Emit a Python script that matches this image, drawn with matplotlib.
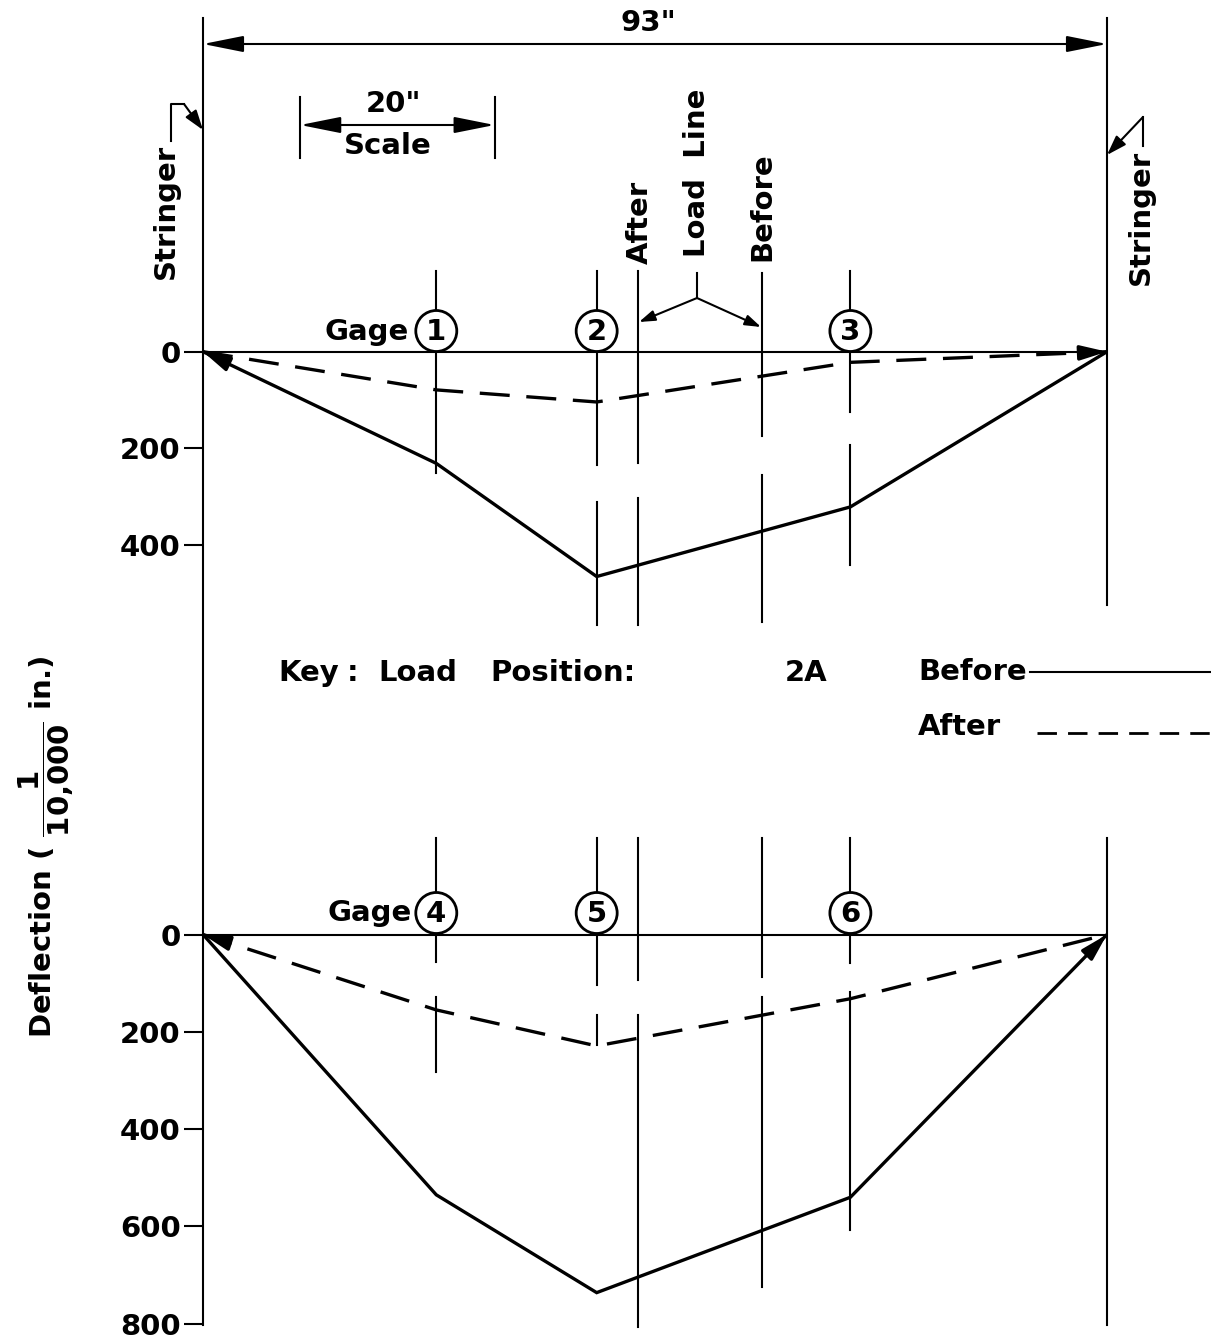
import matplotlib
matplotlib.use('Agg')
import matplotlib.pyplot as plt
from matplotlib.patches import Circle, FancyArrowPatch
from matplotlib.lines import Line2D
from matplotlib.transforms import Affine2D, blended_transform_factory

plt.rcParams['mathtext.fontset'] = 'dejavusans'

# span between stringers, inches
span = 93
scale_bar = [10, 30]

# gage and load line positions, inches from left stringer
gage_x = [24.0, 40.5, 66.6]
load_after_x = 44.7
load_before_x = 57.5

# deflections, 1/10,000 in. (stringers at 0 and span)
pos_x = [0] + gage_x + [span]
top_before = [0, 231, 465, 321, 0]
top_after = [0, 79, 104, 22, 0]
bot_before = [0, 535, 736, 540, 0]
bot_after = [0, 155, 229, 132, 0]

top_gages = ['1', '2', '3']
bot_gages = ['4', '5', '6']
top_ticks = [0, 200, 400]
bot_ticks = [0, 200, 400, 600, 800]

# page layout in pixels
W, H = 1211, 1340
X0, X1 = 203, 1107
FS = 21
FONT = dict(fontsize=FS, fontweight='bold', family='DejaVu Sans')
LW_CURVE = 2.4
LW_THIN = 1.5
DIM_ARROW = '<|-|>,head_length=1.25,head_width=0.25'

fig = plt.figure(figsize=(W / 100, H / 100), dpi=100)
pix = Affine2D().scale(1 / W, -1 / H).translate(0, 1) + fig.transFigure


def make_axes(row0, row1, zero_px, px_per_unit, ticks):
    ax = fig.add_axes([X0 / W, 1 - row1 / H, (X1 - X0) / W, (row1 - row0) / H])
    ax.set_xlim(0, span)
    ax.set_ylim((row1 - zero_px) / px_per_unit, (row0 - zero_px) / px_per_unit)
    ax.patch.set_visible(False)
    for s in ax.spines.values():
        s.set_visible(False)
    ax.set_xticks([])
    ax.set_yticks(ticks)
    ax.tick_params(axis='y', length=14, width=LW_THIN, pad=2, labelsize=FS, direction='out')
    for lab in ax.get_yticklabels():
        lab.set_fontweight('bold')
    return ax


def pline(xs, ys, lw=LW_THIN, **kw):
    fig.add_artist(Line2D(xs, ys, transform=pix, color='k', lw=lw, **kw))


def parrow(start, end, style='-|>,head_length=0.6,head_width=0.2', ms=20):
    fig.add_artist(FancyArrowPatch(
        start, end, transform=pix, arrowstyle=style, mutation_scale=ms,
        color='k', lw=LW_THIN, shrinkA=0, shrinkB=0))


def vsegments(ax, x, segs):
    tr = blended_transform_factory(ax.transData, pix)
    for a, b in segs:
        ax.plot([x, x], [a, b], transform=tr, color='k', lw=LW_THIN, clip_on=False)


def end_arrow(ax, xs, ys, at_end):
    # small arrowhead on the first or last segment of a profile
    if at_end:
        p, q = (xs[-2], ys[-2]), (xs[-1], ys[-1])
    else:
        p, q = (xs[1], ys[1]), (xs[0], ys[0])
    start = (q[0] + 0.08 * (p[0] - q[0]), q[1] + 0.08 * (p[1] - q[1]))
    ax.annotate('', xy=q, xytext=start,
                arrowprops=dict(arrowstyle='-|>,head_length=0.8,head_width=0.22',
                                mutation_scale=20, color='k', lw=LW_CURVE,
                                shrinkA=0, shrinkB=0))


def gage_marks(labels, circle_row):
    for gx, lab in zip(gage_x, labels):
        px = X0 + gx * (X1 - X0) / span
        fig.add_artist(Circle((px, circle_row), 20.5, transform=pix, fc='white',
                              ec='k', lw=2.0, zorder=5))
        fig.text(px, circle_row + 1, lab, transform=pix, ha='center', va='center',
                 zorder=6, **FONT)


ax_top = make_axes(0, 700, 351.7, 0.4835, top_ticks)
ax_bot = make_axes(700, 1340, 934.5, 0.4866, bot_ticks)

# stringers
pline([X0, X0], [18, 1325])
vsegments(ax_top, span, [(18, 605)])
vsegments(ax_bot, span, [(838, 1325)])

# gage verticals and load lines (gaps as drawn)
vsegments(ax_top, gage_x[0], [(271, 473)])
vsegments(ax_top, gage_x[1], [(271, 465), (502, 625)])
vsegments(ax_top, gage_x[2], [(271, 412), (445, 565)])
vsegments(ax_top, load_after_x, [(271, 463), (498, 625)])
vsegments(ax_top, load_before_x, [(273, 436), (475, 622)])
vsegments(ax_bot, gage_x[0], [(838, 962), (997, 1072)])
vsegments(ax_bot, gage_x[1], [(838, 985), (1015, 1045)])
vsegments(ax_bot, gage_x[2], [(838, 963), (992, 1230)])
vsegments(ax_bot, load_after_x, [(838, 980), (1015, 1327)])
vsegments(ax_bot, load_before_x, [(838, 977), (997, 1287)])

# baselines and deflection profiles
for ax, before, after in [(ax_top, top_before, top_after), (ax_bot, bot_before, bot_after)]:
    ax.plot([0, span], [0, 0], color='k', lw=LW_THIN)
    ax.plot(pos_x, before, color='k', lw=LW_CURVE, solid_joinstyle='miter')
    ax.plot(pos_x, after, color='k', lw=LW_CURVE, linestyle=(0, (9, 5)))

end_arrow(ax_top, pos_x, top_before, at_end=False)
end_arrow(ax_top, pos_x, top_after, at_end=True)
end_arrow(ax_bot, pos_x, bot_after, at_end=False)
end_arrow(ax_bot, pos_x, bot_before, at_end=True)

gage_marks(top_gages, 331)
gage_marks(bot_gages, 913)
fig.text(367, 332, 'Gage', transform=pix, ha='center', va='center', **FONT)
fig.text(370, 913, 'Gage', transform=pix, ha='center', va='center', **FONT)

# overall dimension
parrow((X0, 44), (X1, 44), style=DIM_ARROW, ms=20)
fig.text(648, 23, '93"', transform=pix, ha='center', va='center', **FONT)

# scale bar
sx = [X0 + v * (X1 - X0) / span for v in scale_bar]
tr_top = blended_transform_factory(ax_top.transData, pix)
for v in scale_bar:
    ax_top.plot([v, v], [97, 158], transform=tr_top, color='k', lw=LW_THIN, clip_on=False)
parrow((sx[0], 125), (sx[1], 125), style=DIM_ARROW, ms=20)
fig.text(393, 104, '20"', transform=pix, ha='center', va='center', **FONT)
fig.text(388, 146, 'Scale', transform=pix, ha='center', va='center', **FONT)

# stringer labels
fig.text(166, 211, 'Stringer', transform=pix, rotation=90, ha='center', va='center', **FONT)
pline([171, 171, 184], [141, 104, 104])
parrow((184, 104), (203, 130))
fig.text(1141, 217, 'Stringer', transform=pix, rotation=90, ha='center', va='center', **FONT)
pline([1143, 1143], [146, 117])
parrow((1143, 117), (1107, 155))

# load line labels
fig.text(640, 222, 'After', transform=pix, rotation=90, ha='center', va='center', **FONT)
fig.text(697, 173, 'Load  Line', transform=pix, rotation=90, ha='center', va='center', **FONT)
fig.text(762, 207, 'Before', transform=pix, rotation=90, ha='center', va='center', **FONT)
pline([697, 697], [273, 298])
parrow((697, 298), (639, 322), ms=16)
parrow((697, 298), (761, 327), ms=16)

# key
fig.text(278, 673, 'Key', transform=pix, ha='left', va='center', **FONT)
fig.text(347, 673, ':', transform=pix, ha='left', va='center', **FONT)
fig.text(378, 673, 'Load', transform=pix, ha='left', va='center', **FONT)
fig.text(490, 673, 'Position:', transform=pix, ha='left', va='center', **FONT)
fig.text(806, 673, '2A', transform=pix, ha='center', va='center', **FONT)
fig.text(918, 672, 'Before', transform=pix, ha='left', va='center', **FONT)
fig.text(918, 727, 'After', transform=pix, ha='left', va='center', **FONT)
pline([1030, W], [672, 672])
pline([1037, W], [733, 733], lw=2.0, linestyle=(0, (7, 4)))

# y label
fig.text(46, 847, r'Deflection ( $\dfrac{\mathbf{1}}{\mathbf{10{,}000}}$ in.)',
         transform=pix, rotation=90, ha='center', va='center', **FONT)

fig.savefig('out.png', dpi=100, facecolor='white')
